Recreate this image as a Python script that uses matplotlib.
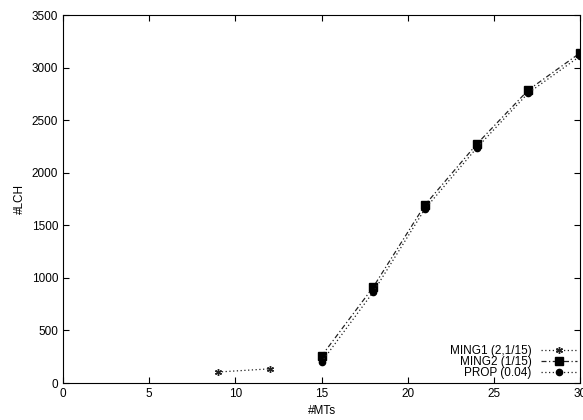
import matplotlib.pyplot as plt

plt.rcParams['font.family'] = ['Liberation Sans', 'DejaVu Sans']

x_ming1 = [9, 12]
y_ming1 = [105, 135]

x_ming2 = [15, 18, 21, 24, 27, 30]
y_ming2 = [257, 913, 1694, 2272, 2788, 3140]

x_prop = [15, 18, 21, 24, 27, 30]
y_prop = [200, 866, 1656, 2236, 2760, 3110]

fig = plt.figure(figsize=(5.83, 4.2), dpi=100)
ax = fig.add_axes([0.108, 0.088, 0.887, 0.876])

ax.plot(x_ming1, y_ming1, color='#222222', linestyle=(0, (1, 2)), linewidth=0.9,
        marker=(6, 2, 0), markersize=5, markeredgewidth=1.0, label='MING1 (2,1/15)')
ax.plot(x_ming2, y_ming2, color='#222222', linestyle=(0, (4, 2, 1, 2)), linewidth=0.9,
        marker='s', markersize=5.5, markerfacecolor='black', markeredgecolor='black',
        label='MING2 (1/15)')
ax.plot(x_prop, y_prop, color='#222222', linestyle=(0, (1, 2)), linewidth=0.9,
        marker='o', markersize=4.5, markerfacecolor='black', markeredgecolor='black',
        label='PROP (0.04)')

ax.set_xlim(0, 30)
ax.set_ylim(0, 3500)
ax.set_xticks(range(0, 31, 5))
ax.set_yticks(range(0, 3501, 500))
ax.tick_params(direction='in', top=True, right=True, labelsize=8.5, length=4)
ax.set_xlabel('#MTs', fontsize=8.5)
ax.set_ylabel('#LCH', fontsize=8.5)

ax.legend(loc='lower right', frameon=False, fontsize=8.5, markerfirst=False,
          handlelength=3, labelspacing=-0.08, borderaxespad=0.1, borderpad=0.2,
          handletextpad=0.8)

fig.savefig('out.png', dpi=100)
